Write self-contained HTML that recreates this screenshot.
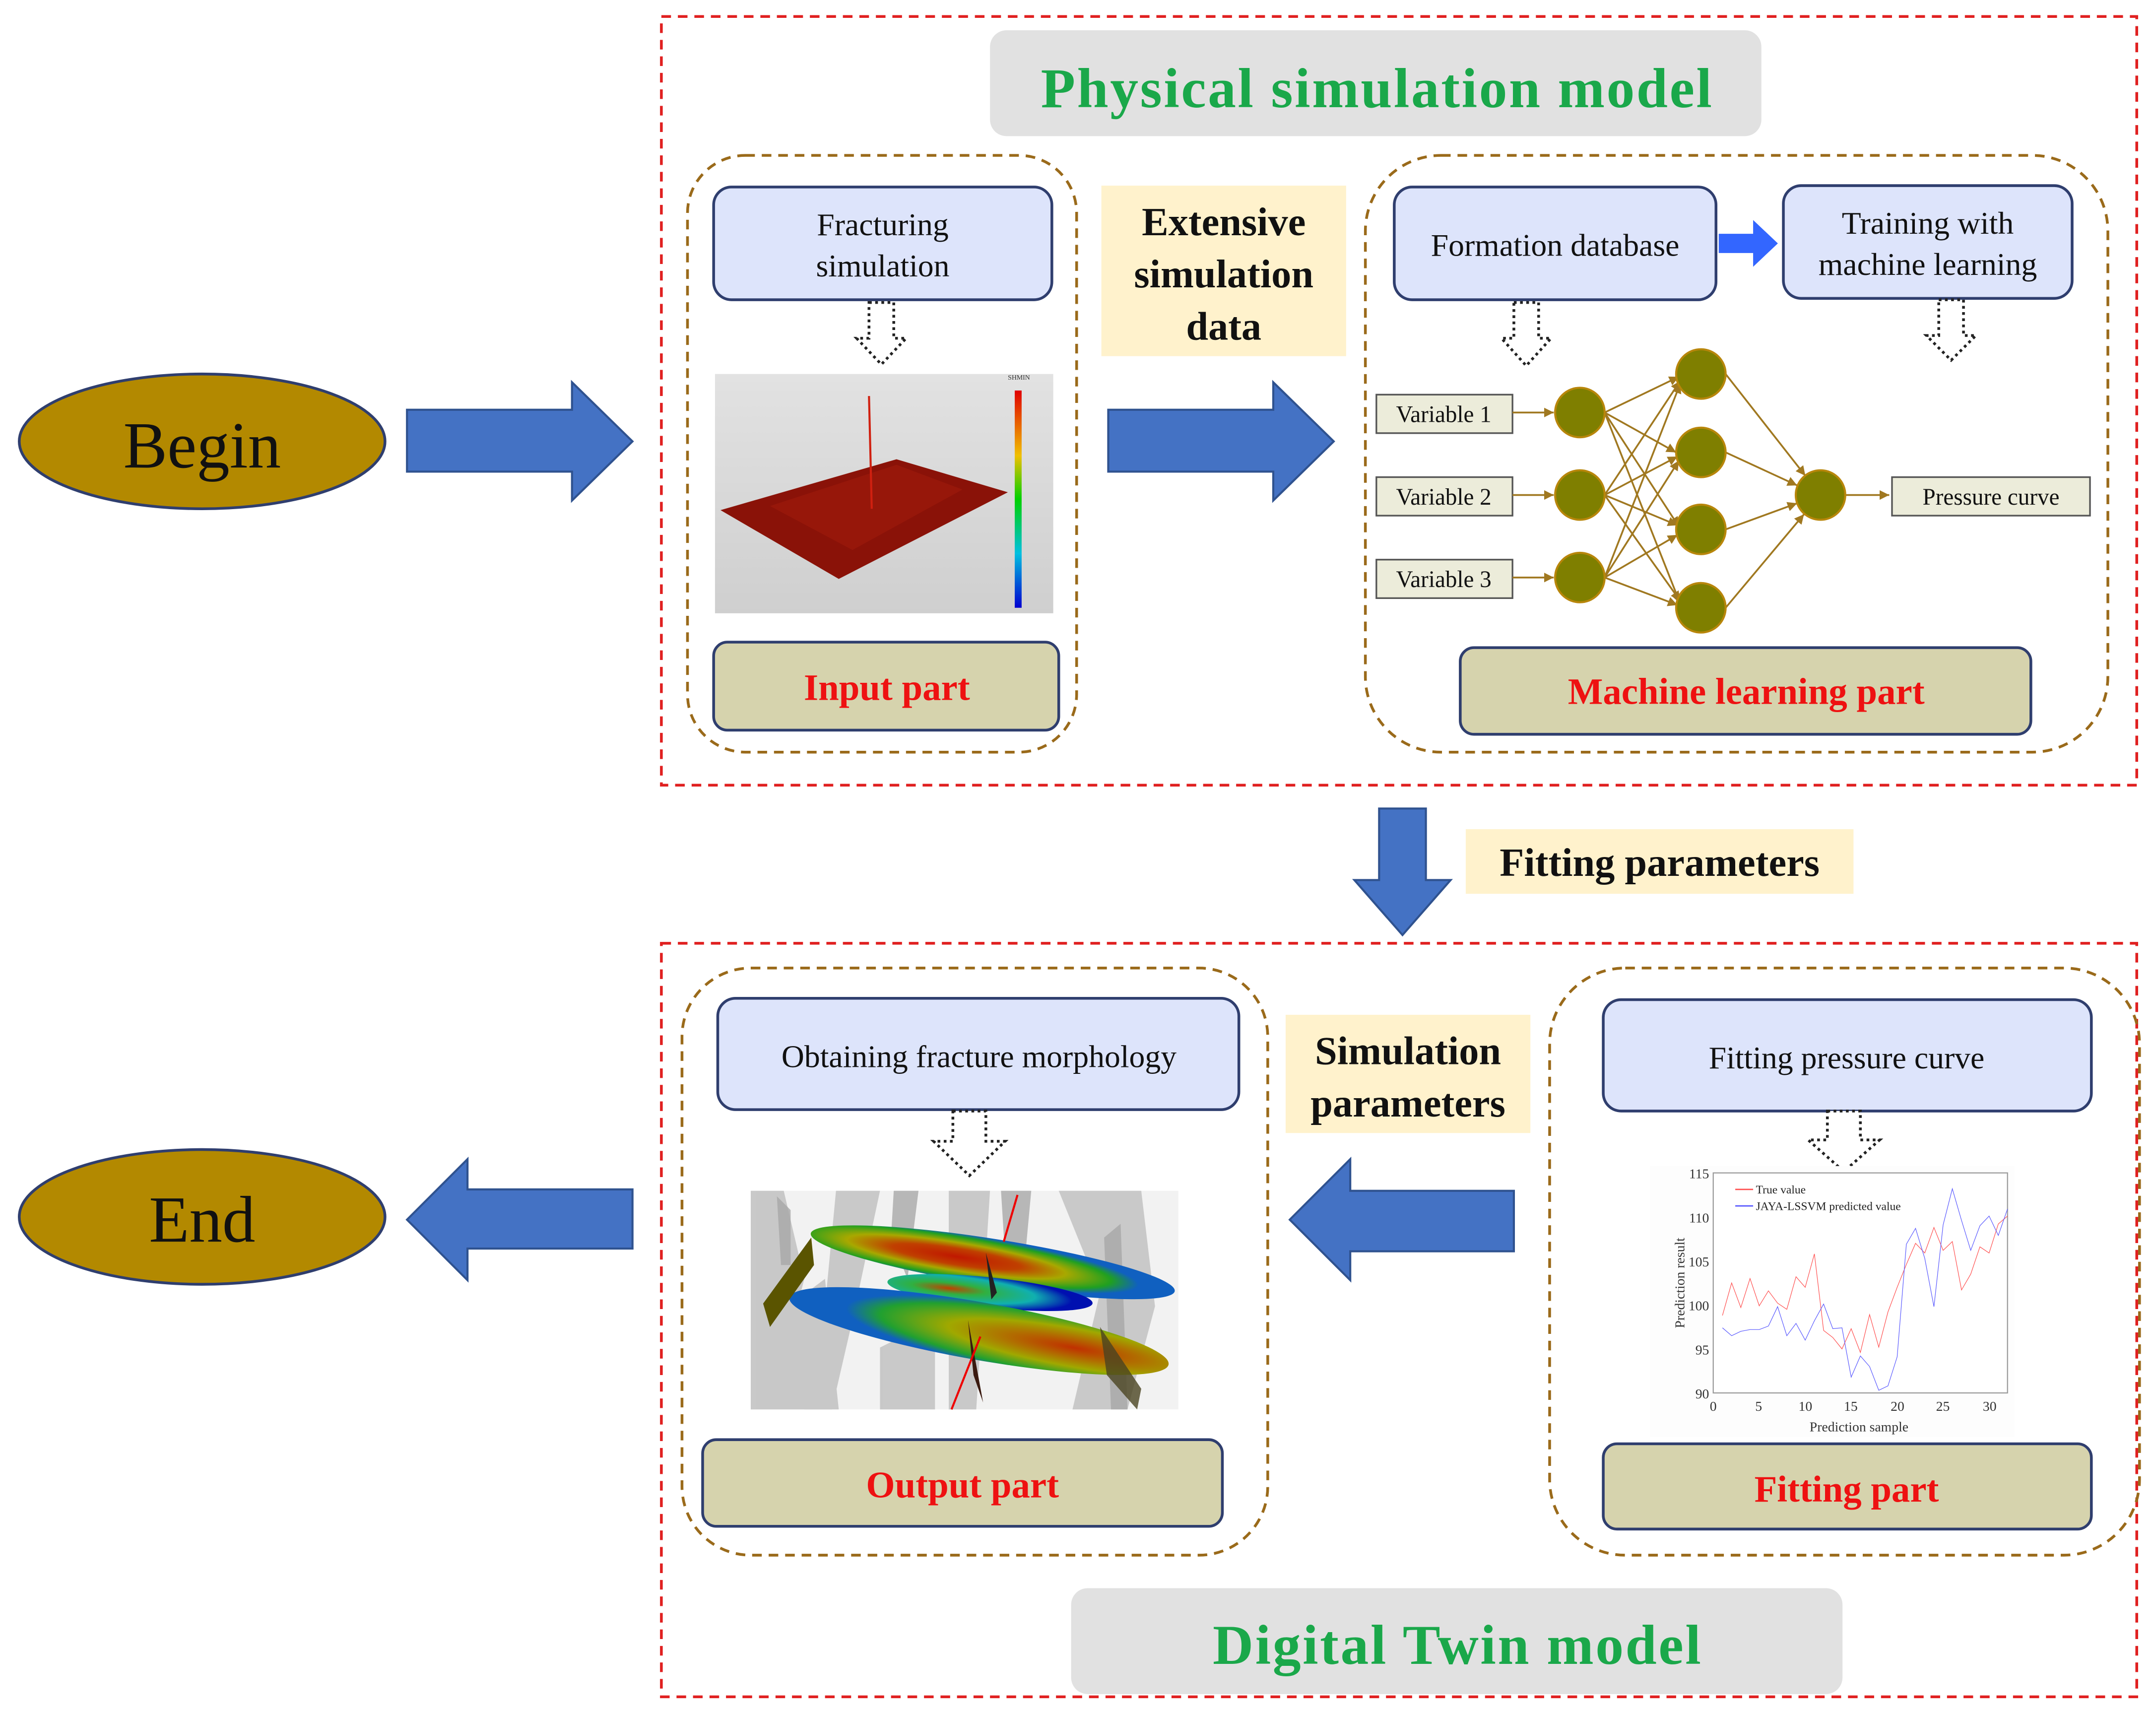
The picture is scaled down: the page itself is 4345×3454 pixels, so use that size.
<!DOCTYPE html>
<html><head><meta charset="utf-8"><style>
html,body{margin:0;padding:0;background:#fff;}
svg{display:block;}
text{font-family:"Liberation Serif",serif;}
</style></head><body>
<svg width="4345" height="3454" viewBox="0 0 1568 1246.5" preserveAspectRatio="none" xmlns="http://www.w3.org/2000/svg">
<defs>
<marker id="ah" viewBox="0 0 10 10" refX="10" refY="5" markerWidth="7" markerHeight="7" markerUnits="userSpaceOnUse" orient="auto"><path d="M0,0 L10,5 L0,10 z" fill="#a07820"/></marker>
<radialGradient id="disk" cx="0.4" cy="0.5" r="0.5">
<stop offset="0" stop-color="#c01800"/><stop offset="0.35" stop-color="#c04000"/><stop offset="0.6" stop-color="#a8a800"/><stop offset="0.85" stop-color="#20a020"/><stop offset="1" stop-color="#1060c0"/></radialGradient>
<radialGradient id="disk2" cx="0.75" cy="0.5" r="0.6">
<stop offset="0" stop-color="#c03000"/><stop offset="0.3" stop-color="#b07000"/><stop offset="0.55" stop-color="#a0a800"/><stop offset="0.85" stop-color="#20a030"/><stop offset="1" stop-color="#1060c0"/></radialGradient>
<radialGradient id="disk3" cx="0.3" cy="0.5" r="0.6">
<stop offset="0" stop-color="#c04000"/><stop offset="0.3" stop-color="#30b040"/><stop offset="0.7" stop-color="#10b0b0"/><stop offset="1" stop-color="#0010b0"/></radialGradient>
<linearGradient id="cbar" x1="0" y1="0" x2="0" y2="1">
<stop offset="0" stop-color="#e00000"/><stop offset="0.3" stop-color="#f0c000"/><stop offset="0.5" stop-color="#00d000"/><stop offset="0.75" stop-color="#00c0e0"/><stop offset="1" stop-color="#0000d0"/></linearGradient>
<linearGradient id="bg3d" x1="0" y1="0" x2="0" y2="1"><stop offset="0" stop-color="#e2e2e2"/><stop offset="1" stop-color="#cfcfcf"/></linearGradient>
</defs>

<rect x="481" y="12" width="1073" height="559" fill="none" stroke="#e02020" stroke-width="2" stroke-dasharray="7,5"/>
<rect x="481" y="686" width="1073" height="548" fill="none" stroke="#e02020" stroke-width="2" stroke-dasharray="7,5"/>

<rect x="720" y="22" width="561" height="77" rx="12" fill="#e1e1e1"/>
<text x="757" y="78" font-size="41" font-weight="bold" fill="#1aa84a" textLength="488" lengthAdjust="spacing">Physical simulation model</text>
<rect x="779" y="1155" width="561" height="77" rx="12" fill="#e1e1e1"/>
<text x="882" y="1210" font-size="41" font-weight="bold" fill="#1aa84a" textLength="355" lengthAdjust="spacing">Digital Twin model</text>

<g fill="none" stroke="#9a6a1a" stroke-width="2" stroke-dasharray="7,5">
<rect x="500" y="113" width="283" height="434" rx="42"/>
<rect x="993" y="113" width="540" height="434" rx="55"/>
<rect x="496" y="704" width="426" height="427" rx="50"/>
<rect x="1127" y="704" width="429" height="427" rx="55"/>
</g>

<ellipse cx="147" cy="321" rx="133" ry="49" fill="#b38900" stroke="#2f3e6e" stroke-width="2"/>
<text x="147" y="340" font-size="48" text-anchor="middle" fill="#111">Begin</text>
<ellipse cx="147" cy="885" rx="133" ry="49" fill="#b38900" stroke="#2f3e6e" stroke-width="2"/>
<text x="147" y="903" font-size="48" text-anchor="middle" fill="#111">End</text>

<g fill="#4472c4" stroke="#2f528f" stroke-width="1.5">
<polygon points="296,298 416,298 416,278 460,321 416,364 416,343 296,343"/>
<polygon points="806,298 926,298 926,278 970,321 926,364 926,343 806,343"/>
<polygon points="460,865 340,865 340,843 296,887 340,931 340,908 460,908"/>
<polygon points="1101,866 982,866 982,843 938,887 982,931 982,910 1101,910"/>
<polygon points="1003,588 1037,588 1037,640 1055,640 1020,680 985,640 1003,640"/>
</g>
<polygon points="1250,170 1275,170 1275,160 1293,177 1275,194 1275,184 1250,184" fill="#3366ff"/>

<g fill="#dde4fb" stroke="#2f3e6e" stroke-width="2">
<rect x="519" y="136" width="246" height="82" rx="13"/>
<rect x="1014" y="136" width="234" height="82" rx="13"/>
<rect x="1297" y="135" width="210" height="82" rx="13"/>
<rect x="522" y="726" width="379" height="81" rx="13"/>
<rect x="1166" y="727" width="355" height="81" rx="13"/>
</g>
<g font-size="23" fill="#111" text-anchor="middle">
<text x="642" y="171">Fracturing</text>
<text x="642" y="201">simulation</text>
<text x="1131" y="186">Formation database</text>
<text x="1402" y="170">Training with</text>
<text x="1402" y="200">machine learning</text>
<text x="712" y="776">Obtaining fracture morphology</text>
<text x="1343" y="777">Fitting pressure curve</text>
</g>

<g fill="#d6d3ad" stroke="#2f3e6e" stroke-width="2">
<rect x="519" y="467" width="251" height="64" rx="10"/>
<rect x="1062" y="471" width="415" height="63" rx="10"/>
<rect x="511" y="1047" width="378" height="63" rx="10"/>
<rect x="1166" y="1050" width="355" height="62" rx="10"/>
</g>
<g font-size="27" font-weight="bold" fill="#ee1111" text-anchor="middle">
<text x="645" y="509">Input part</text>
<text x="1270" y="512">Machine learning part</text>
<text x="700" y="1089">Output part</text>
<text x="1343" y="1092">Fitting part</text>
</g>

<g fill="#fff2cc">
<rect x="801" y="135" width="178" height="124"/>
<rect x="1066" y="603" width="282" height="47"/>
<rect x="935" y="738" width="178" height="86"/>
</g>
<g font-size="29" font-weight="bold" fill="#111" text-anchor="middle">
<text x="890" y="171">Extensive</text>
<text x="890" y="209">simulation</text>
<text x="890" y="247">data</text>
<text x="1207" y="637">Fitting parameters</text>
<text x="1024" y="774">Simulation</text>
<text x="1024" y="812">parameters</text>
</g>

<g fill="#fff" stroke="#222" stroke-width="2" stroke-dasharray="2,2.5">
<polygon points="632,220 650,220 650,246 659,246 641,265 623,246 632,246"/>
<polygon points="1101,220 1119,220 1119,246 1128,246 1110,266 1092,246 1101,246"/>
<polygon points="1410,218 1428,218 1428,244 1437,244 1419,262 1401,244 1410,244"/>
<polygon points="693,808 717,808 717,830 731,830 705,855 679,830 693,830"/>
<polygon points="1329,808 1353,808 1353,829 1367,829 1341,852 1315,829 1329,829"/>
</g>

<rect x="520" y="272" width="246" height="174" fill="url(#bg3d)"/>
<polygon points="524,371 652,334 733,358 610,421" fill="#8a1208"/>
<polygon points="560,368 652,338 700,356 620,400" fill="#a01a0c" opacity="0.6"/>
<line x1="632" y1="288" x2="634" y2="370" stroke="#d02010" stroke-width="1.5"/>
<rect x="738" y="284" width="5" height="158" fill="url(#cbar)"/>
<text x="733" y="276" font-size="5" fill="#333">SHMIN</text>

<g fill="#ececda" stroke="#555" stroke-width="1.2">
<rect x="1001" y="287" width="99" height="28"/>
<rect x="1001" y="347" width="99" height="28"/>
<rect x="1001" y="407" width="99" height="28"/>
<rect x="1376" y="347" width="144" height="28"/>
</g>
<g font-size="17" fill="#111" text-anchor="middle">
<text x="1050" y="307">Variable 1</text>
<text x="1050" y="367">Variable 2</text>
<text x="1050" y="427">Variable 3</text>
<text x="1448" y="367">Pressure curve</text>
</g>
<g stroke="#a07820" stroke-width="1.3" fill="none" marker-end="url(#ah)">
<line x1="1100" y1="300" x2="1130" y2="300"/><line x1="1100" y1="360" x2="1130" y2="360"/><line x1="1100" y1="420" x2="1130" y2="420"/>
<line x1="1167" y1="300" x2="1221" y2="274"/><line x1="1167" y1="300" x2="1219" y2="329"/><line x1="1167" y1="300" x2="1221" y2="383"/><line x1="1167" y1="300" x2="1222" y2="439"/>
<line x1="1167" y1="360" x2="1222" y2="277"/><line x1="1167" y1="360" x2="1220" y2="332"/><line x1="1167" y1="360" x2="1220" y2="382"/><line x1="1167" y1="360" x2="1222" y2="437"/>
<line x1="1167" y1="420" x2="1222" y2="279"/><line x1="1167" y1="420" x2="1221" y2="335"/><line x1="1167" y1="420" x2="1220" y2="389"/><line x1="1167" y1="420" x2="1220" y2="440"/>
<line x1="1255" y1="272" x2="1313" y2="346"/><line x1="1255" y1="329" x2="1307" y2="353"/><line x1="1255" y1="385" x2="1307" y2="366"/><line x1="1255" y1="442" x2="1312" y2="374"/>
<line x1="1342" y1="360" x2="1374" y2="360"/>
</g>
<g fill="#7f7f00" stroke="#b8860b" stroke-width="1.5">
<circle cx="1149" cy="300" r="18"/><circle cx="1149" cy="360" r="18"/><circle cx="1149" cy="420" r="18"/>
<circle cx="1237" cy="272" r="18"/><circle cx="1237" cy="329" r="18"/><circle cx="1237" cy="385" r="18"/><circle cx="1237" cy="442" r="18"/>
<circle cx="1324" cy="360" r="18"/>
</g>

<g>
<rect x="546" y="866" width="311" height="159" fill="#f2f2f2"/>
<g fill="#c4c4c4" opacity="0.9">
<polygon points="546,866 570,866 585,930 560,1025 546,1025"/>
<polygon points="608,866 640,866 620,960 605,1025 585,1025 600,950"/>
<polygon points="690,866 720,866 710,1025 690,1025"/>
<polygon points="770,866 830,866 840,950 820,1025 780,1025 800,940"/>
<polygon points="560,960 600,930 610,1025 560,1025"/>
<polygon points="640,980 680,960 680,1025 640,1025"/>
</g>
<g fill="#a8a8a8" opacity="0.8">
<polygon points="650,866 668,866 660,930 648,900"/>
<polygon points="728,866 750,866 745,920 732,930"/>
<polygon points="803,900 815,890 820,1025 808,1025"/>
<polygon points="565,870 575,880 575,920 568,920"/>
</g>
<ellipse cx="722" cy="918" rx="134" ry="17" transform="rotate(9 722 918)" fill="url(#disk)"/>
<ellipse cx="720" cy="940" rx="75" ry="11" transform="rotate(6 720 940)" fill="url(#disk3)"/>
<ellipse cx="712" cy="968" rx="140" ry="21" transform="rotate(10 712 968)" fill="url(#disk2)"/>
<polygon points="590,900 555,948 560,965 592,920" fill="#5a5400"/>
<polygon points="704,960 715,1020 708,1000" fill="#3a1a10"/>
<line x1="740" y1="869" x2="730" y2="903" stroke="#e00" stroke-width="1.5"/>
<line x1="713" y1="972" x2="692" y2="1025" stroke="#e00" stroke-width="1.5"/>
<polygon points="800,965 830,1010 827,1025 805,1000" fill="#4a4420" opacity="0.8"/>
<polygon points="717,911 725,940 721,945" fill="#222"/>
</g>

<rect x="1200" y="848" width="265" height="197" fill="#fdfdfd"/>
<rect x="1246" y="853" width="214" height="160" fill="#fff" stroke="#999" stroke-width="0.8"/>
<g font-size="10" fill="#333" text-anchor="end">
<text x="1243" y="857">115</text><text x="1243" y="889">110</text><text x="1243" y="921">105</text>
<text x="1243" y="953">100</text><text x="1243" y="985">95</text><text x="1243" y="1017">90</text>
</g>
<g font-size="10" fill="#333" text-anchor="middle">
<text x="1246" y="1026">0</text><text x="1279" y="1026">5</text><text x="1313" y="1026">10</text>
<text x="1346" y="1026">15</text><text x="1380" y="1026">20</text><text x="1413" y="1026">25</text><text x="1447" y="1026">30</text>
<text x="1352" y="1041">Prediction sample</text>
</g>
<text x="1225" y="933" font-size="10" fill="#333" text-anchor="middle" transform="rotate(-90 1225 933)">Prediction result</text>
<g transform="translate(1246,1589) scale(6.6875,-6.4)" fill="none">
<polyline vector-effect="non-scaling-stroke" stroke="#ff5050" stroke-width="1.2" points="1,98.8 2,102.5 3,99.7 4,103 5,99.9 6,101.6 7,100.2 8,99.5 9,103.2 10,102 11,105.8 12,97.1 13,96.3 14,95 15,97.3 16,94.6 17,98.9 18,95.2 19,99.2 20,102 21,104.6 22,107 23,105.9 24,108.8 25,106.2 26,107.2 27,101.7 28,103.5 29,106.6 30,105.9 31,109.2 32,110.1"/>
<polyline vector-effect="non-scaling-stroke" stroke="#5a5aff" stroke-width="1.2" points="1,97.4 2,96.5 3,97 4,97.2 5,97.2 6,97.6 7,99.8 8,96.5 9,97.9 10,96 11,98.2 12,100.1 13,97.3 14,97.4 15,91.8 16,94.2 17,93 18,90.3 19,90.8 20,94.1 21,106.9 22,108.7 23,105.3 24,99.8 25,109.1 26,113.2 27,109.6 28,106.2 29,109 30,110.1 31,107.9 32,110.9"/>
</g>
<line x1="1262" y1="865" x2="1275" y2="865" stroke="#ff5050"/>
<line x1="1262" y1="877" x2="1275" y2="877" stroke="#5a5aff"/>
<g font-size="8.5" fill="#222"><text x="1277" y="868">True value</text><text x="1277" y="880">JAYA-LSSVM predicted value</text></g>
</svg>
</body></html>
